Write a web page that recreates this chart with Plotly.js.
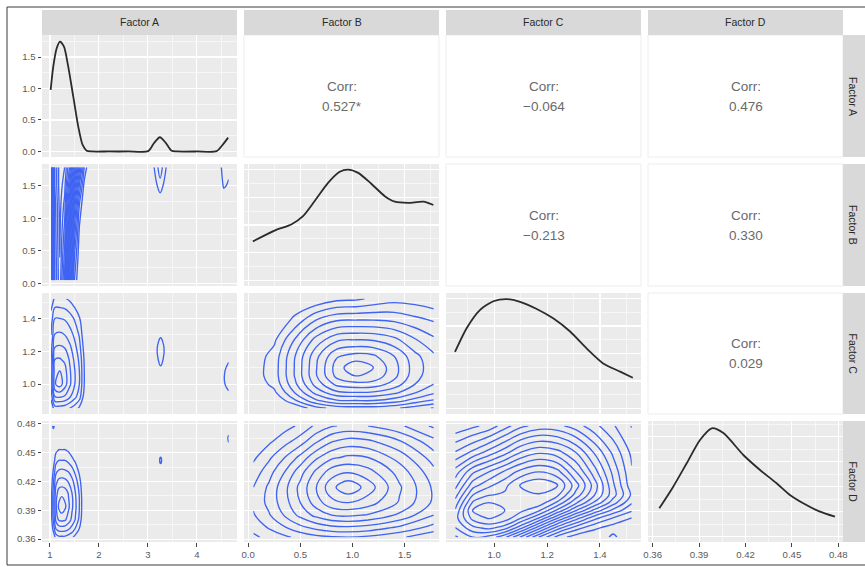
<!DOCTYPE html>
<html><head><meta charset="utf-8">
<script src="https://cdn.plot.ly/plotly-3.0.1.min.js"></script>
<style>html,body{margin:0;padding:0;background:#fff}#chart{width:865px;height:567px}</style>
</head><body><div id="chart"></div>
<script>
// ================= DATA =================
const factors = ['Factor A', 'Factor B', 'Factor C', 'Factor D'];

// diagonal densities
const densA_x = [1.014, 1.067, 1.137, 1.204, 1.286, 1.373, 1.476, 1.578, 1.667, 1.749, 1.85, 2.2, 2.6, 3.006, 3.122, 3.245, 3.361, 3.484, 3.6, 4.0, 4.402, 4.524, 4.639];
const densA_y = [0.977, 1.347, 1.64, 1.745, 1.665, 1.347, 0.87, 0.394, 0.103, 0.013, 0.0, 0.0, 0.0, 0.005, 0.13, 0.226, 0.14, 0.01, 0.0, 0.0, 0.005, 0.103, 0.22];
const densB_x = [0.045, 0.253, 0.413, 0.526, 0.638, 0.766, 0.878, 0.958, 1.055, 1.183, 1.31, 1.407, 1.535, 1.68, 1.776];
const densB_y = [0.282, 0.36, 0.404, 0.464, 0.573, 0.704, 0.784, 0.80, 0.776, 0.696, 0.608, 0.568, 0.56, 0.568, 0.544];
const densC_x = [0.852, 0.896, 0.946, 0.997, 1.047, 1.098, 1.161, 1.223, 1.287, 1.350, 1.412, 1.476, 1.524];
const densC_y = [1.03, 1.46, 1.79, 1.95, 1.99, 1.94, 1.81, 1.64, 1.40, 1.09, 0.82, 0.67, 0.56];
const densD_x = [0.3643, 0.3733, 0.382, 0.3906, 0.3982, 0.4057, 0.4186, 0.4294, 0.4401, 0.4487, 0.4573, 0.4681, 0.4778];
const densD_y = [2.82, 4.98, 7.32, 9.65, 10.82, 10.34, 8.15, 6.65, 5.32, 4.15, 3.32, 2.48, 1.98];

// correlations (upper triangle)
const corrRow = [0, 0, 0, 1, 1, 2];
const corrCol = [1, 2, 3, 2, 3, 3];
const corrText = ['0.527*', '\u22120.064', '0.476', '\u22120.213', '0.330', '0.029'];

// tick labels
const ticksA = [1, 2, 3, 4],               ticksA_text = ['1', '2', '3', '4'];
const ticksB = [0, 0.5, 1, 1.5],           ticksB_text = ['0.0', '0.5', '1.0', '1.5'];
const ticksC = [1.0, 1.2, 1.4],            ticksC_text = ['1.0', '1.2', '1.4'];
const ticksD = [0.36, 0.39, 0.42, 0.45, 0.48], ticksD_text = ['0.36', '0.39', '0.42', '0.45', '0.48'];
const ticksDensA = [0, 0.5, 1, 1.5],       ticksDensA_text = ['0.0', '0.5', '1.0', '1.5'];
const ticksDensB = [0, 0.2, 0.4, 0.6, 0.8];
const ticksDensC = [0, 0.5, 1, 1.5, 2];
const ticksDensD = [0, 2.5, 5, 7.5, 10];

// 2D density grids (estimated contour level field), lower triangle
// A (x) vs B (y)
const ab_x = [1.02, 1.1, 1.2, 1.3, 1.4, 1.5, 1.6, 1.7, 1.8, 2.2, 2.8, 3.05, 3.25, 3.45, 3.7, 4.2, 4.45, 4.55, 4.65];
const ab_y = [0.05, 0.4, 0.8, 1.2, 1.5, 1.78];
const ab_z = [
  [5.6, 9.0, 10.4, 8.3, 4.5, 1.5, 0.4, 0, 0, 0, 0, 0, 0, 0, 0, 0, 0, 0, 0],
  [5.7, 9.1, 10.5, 8.8, 5.2, 2.0, 0.6, 0.1, 0, 0, 0, 0, 0, 0, 0, 0, 0, 0, 0],
  [5.8, 9.2, 10.6, 9.3, 6.0, 2.8, 0.9, 0.2, 0, 0, 0, 0, 0, 0, 0, 0, 0, 0, 0],
  [6.0, 9.3, 10.7, 9.8, 7.0, 3.8, 1.5, 0.4, 0, 0, 0, 0, 0.5, 0, 0, 0, 0, 0.4, 0.3],
  [6.3, 9.5, 10.8, 10.2, 8.0, 5.0, 2.5, 0.8, 0.2, 0, 0, 0.3, 1.3, 0.3, 0, 0, 0.4, 1.1, 0.9],
  [6.5, 9.5, 10.8, 10.5, 9.0, 6.5, 3.8, 1.5, 0.5, 0, 0, 0.5, 1.8, 0.5, 0, 0, 0.6, 1.4, 1.2]
];
// A (x) vs C (y)
const ac_x = [1.02, 1.1, 1.2, 1.3, 1.4, 1.5, 1.6, 1.7, 1.85, 2.5, 3.05, 3.15, 3.26, 3.37, 3.5, 4.3, 4.5, 4.58, 4.65];
const ac_y = [0.853, 0.92, 1.0, 1.08, 1.15, 1.22, 1.3, 1.4, 1.52];
const ac_z = [
  [1.2, 2.5, 2.5, 2.4, 2.0, 1.5, 0.8, 0, 0, 0, 0, 0, 0, 0, 0, 0, 0, 0, 0],
  [2.2, 4.9, 5.0, 4.8, 4.1, 3.3, 2.4, 0.5, 0, 0, 0, 0, 0, 0, 0, 0, 0.2, 0.4, 0.7],
  [3.0, 6.9, 7.5, 6.5, 5.25, 4.1, 3.0, 1.0, 0, 0, 0, 0.2, 0.4, 0.2, 0, 0, 0.3, 1.05, 1.3],
  [3.0, 6.7, 7.0, 6.4, 5.2, 4.1, 3.0, 1.0, 0, 0, 0.2, 0.4, 0.8, 0.4, 0.2, 0, 0.3, 1.05, 1.3],
  [2.8, 6.0, 6.1, 5.8, 4.9, 3.8, 2.8, 0.9, 0, 0, 0.3, 0.7, 1.25, 0.7, 0.3, 0, 0.2, 0.6, 0.9],
  [2.5, 5.1, 5.2, 5.0, 4.3, 3.4, 2.4, 0.6, 0, 0, 0.3, 0.8, 1.35, 0.8, 0.3, 0, 0, 0.2, 0.3],
  [2.0, 4.1, 4.2, 4.0, 3.5, 2.8, 1.9, 0.2, 0, 0, 0.2, 0.4, 0.9, 0.4, 0.2, 0, 0, 0, 0],
  [1.4, 3.0, 3.0, 2.9, 2.5, 1.9, 1.1, 0, 0, 0, 0, 0.2, 0.3, 0.2, 0, 0, 0, 0, 0],
  [0.4, 1.2, 1.2, 1.1, 0.8, 0.3, 0, 0, 0, 0, 0, 0, 0, 0, 0, 0, 0, 0, 0]
];
// A (x) vs D (y)
const ad_x = [1.02, 1.07, 1.12, 1.18, 1.24, 1.31, 1.38, 1.45, 1.52, 1.6, 1.68, 2.5, 3.2, 3.26, 3.32, 4.0, 4.56, 4.6, 4.65];
const ad_y = [0.362, 0.37, 0.38, 0.394, 0.408, 0.42, 0.432, 0.442, 0.452, 0.465, 0.478];
const ad_z = [
  [0, 0.2, 1.4, 1.8, 1.8, 1.8, 1.5, 1.2, 0.6, 0, 0, 0, 0, 0, 0, 0, 0, 0, 0],
  [0, 1.3, 2.9, 3.3, 3.4, 3.3, 3.0, 2.5, 1.8, 0.9, 0, 0, 0, 0, 0, 0, 0, 0, 0],
  [0.3, 2.2, 4.2, 5.1, 5.2, 5.1, 4.5, 3.7, 2.9, 1.7, 0.1, 0, 0, 0, 0, 0, 0, 0, 0],
  [0.5, 2.5, 4.8, 6.2, 6.8, 6.2, 5.2, 4.2, 3.2, 2.0, 0.3, 0, 0, 0, 0, 0, 0, 0, 0],
  [0.4, 2.4, 4.5, 5.5, 5.7, 5.5, 4.9, 4.0, 3.0, 1.9, 0.2, 0, 0, 0, 0, 0, 0, 0, 0],
  [0.1, 1.9, 3.7, 4.3, 4.4, 4.3, 3.9, 3.3, 2.5, 1.4, 0, 0, 0, 0, 0, 0, 0, 0, 0],
  [0, 1.1, 2.6, 3.0, 3.1, 3.0, 2.8, 2.3, 1.6, 0.7, 0, 0, 0.3, 0.6, 0.3, 0, 0, 0, 0],
  [0, 0.4, 1.6, 2.0, 2.0, 2.0, 1.7, 1.3, 0.8, 0, 0, 0, 0.6, 1.2, 0.6, 0, 0, 0, 0],
  [0, 0, 0.8, 1.1, 1.1, 1.1, 0.9, 0.5, 0.1, 0, 0, 0, 0.3, 0.6, 0.3, 0, 0, 0.2, 0.7],
  [0, 0.5, 0, 0, 0, 0, 0, 0, 0, 0, 0, 0, 0, 0, 0, 0, 0, 0.7, 1.15],
  [0.7, 1.15, 0.7, 0, 0, 0, 0, 0, 0, 0, 0, 0, 0, 0, 0, 0, 0, 0.2, 0.6]
];
// B (x) vs C (y)
const bc_x = [0.05, 0.25, 0.45, 0.65, 0.85, 1.03, 1.2, 1.4, 1.6, 1.78];
const bc_y = [0.853, 0.9, 0.95, 1.0, 1.05, 1.1, 1.17, 1.27, 1.39, 1.52];
const bc_z = [
  [0, 0, 0.1, 1.6, 2.4, 2.5, 2.5, 2.2, 1.5, 0.9],
  [0, 0, 1.9, 3.8, 4.9, 5.0, 5.0, 4.5, 3.6, 2.9],
  [0, 0.8, 3.1, 5.4, 6.8, 7.0, 6.9, 6.3, 5.1, 4.2],
  [0.3, 1.3, 3.8, 6.4, 8.3, 8.7, 8.6, 7.6, 6.0, 5.0],
  [0.5, 1.5, 4.1, 6.9, 9.3, 10.0, 9.7, 8.3, 6.4, 5.3],
  [0.5, 1.5, 4.1, 6.9, 9.5, 10.8, 10.0, 8.4, 6.5, 5.4],
  [0.4, 1.4, 4.0, 6.7, 8.9, 9.4, 9.2, 8.0, 6.3, 5.2],
  [0, 0.8, 3.1, 5.4, 6.8, 7.0, 6.9, 6.3, 5.1, 4.2],
  [0, 0, 1.3, 3.0, 3.9, 4.0, 4.0, 3.8, 3.3, 2.9],
  [0, 0, 0, 0.1, 0.7, 0.8, 1.2, 1.6, 1.5, 1.2]
];
// B (x) vs D (y)
const bd_x = [0.05, 0.2, 0.35, 0.5, 0.65, 0.8, 0.96, 1.15, 1.45, 1.78];
const bd_y = [0.362, 0.372, 0.385, 0.398, 0.414, 0.43, 0.445, 0.462, 0.478];
const bd_z = [
  [0.8, 1.3, 1.8, 2.3, 2.7, 2.9, 3.0, 2.8, 2.2, 1.2],
  [1.3, 2.1, 2.9, 3.7, 4.3, 4.7, 4.8, 4.6, 3.8, 2.6],
  [1.9, 2.9, 4.1, 5.3, 6.3, 7.0, 7.2, 6.9, 5.8, 4.0],
  [2.2, 3.3, 4.6, 6.0, 7.5, 8.7, 9.0, 8.5, 6.9, 4.8],
  [2.0, 3.2, 4.7, 6.3, 7.95, 9.7, 10.8, 9.55, 7.15, 4.8],
  [1.4, 2.6, 4.0, 5.6, 7.2, 8.5, 8.9, 8.4, 6.6, 4.3],
  [0.8, 1.8, 3.0, 4.3, 5.8, 6.8, 7.2, 7.0, 5.6, 3.5],
  [0.1, 0.8, 1.6, 2.5, 3.8, 4.9, 5.4, 5.2, 4.1, 2.3],
  [0, 0.1, 0.6, 1.2, 2.2, 2.9, 3.2, 3.0, 2.2, 0.8]
];
// C (x) vs D (y)
const cd_x = [0.853, 0.92, 0.98, 1.04, 1.1, 1.17, 1.24, 1.31, 1.38, 1.45, 1.52];
const cd_y = [0.362, 0.372, 0.382, 0.39, 0.398, 0.406, 0.416, 0.43, 0.45, 0.478];
const cd_z = [
  [8.5, 9.5, 9.2, 8.0, 6.0, 3.5, 1.5, 0.5, 0.3, 1.2, 0.2],
  [9.5, 11.0, 11.5, 10.8, 9.0, 6.5, 4.0, 2.3, 1.2, 0.6, 0.3],
  [10.0, 12.4, 13.0, 12.6, 11.3, 9.5, 7.0, 4.8, 3.0, 1.8, 1.0],
  [9.6, 13.0, 13.5, 12.9, 12.3, 11.3, 9.3, 7.0, 5.0, 3.3, 2.0],
  [9.0, 12.2, 12.9, 12.6, 12.5, 12.6, 11.0, 8.8, 6.8, 4.8, 2.8],
  [8.3, 11.2, 12.0, 12.2, 12.5, 12.8, 12.2, 10.0, 7.8, 5.6, 3.4],
  [7.5, 10.0, 11.0, 11.8, 13.0, 13.6, 12.9, 10.7, 8.2, 5.4, 3.0],
  [6.5, 8.5, 9.5, 10.5, 11.5, 12.1, 11.5, 9.5, 7.3, 5.0, 2.8],
  [4.5, 5.5, 6.5, 7.5, 8.7, 9.4, 9.0, 7.8, 6.0, 4.2, 2.5],
  [2.0, 2.5, 3.0, 4.0, 5.0, 5.6, 5.5, 4.8, 3.8, 2.8, 1.8]
];

// ================= LAYOUT =================
const W = 865, H = 567;
const FONT = 'Liberation Sans, Arial, Helvetica, sans-serif';
const colPx = [[42, 237], [244, 439], [446, 641], [648, 843]];
const rowPx = [[35, 157], [164, 286], [293, 414], [421, 542]];
const stripTop = [10, 35], stripRight = [843, 866];
const fx = p => p / W, fy = p => 1 - p / H;

const varRange = [[0.837, 4.82], [-0.04, 1.83], [0.818, 1.555], [0.357, 0.483]];
const varTicks = [ticksA, ticksB, ticksC, ticksD];
const varText = [ticksA_text, ticksB_text, ticksC_text, ticksD_text];
const densRange = [[-0.088, 1.85], [-0.04, 0.84], [-0.1, 2.1], [-0.55, 11.55]];
const densTicks = [ticksDensA, ticksDensB, ticksDensC, ticksDensD];
const densText = [ticksDensA_text, ticksDensB.map(String), ticksDensC.map(String), ticksDensD.map(String)];
const densX = [densA_x, densB_x, densC_x, densD_x];
const densY = [densA_y, densB_y, densC_y, densD_y];

function mids(t) {
  const step = t[1] - t[0];
  const m = [t[0] - step / 2];
  for (let i = 0; i < t.length - 1; i++) m.push((t[i] + t[i + 1]) / 2);
  m.push(t[t.length - 1] + step / 2);
  return m;
}
function axisDef(domain, range, tickvals, ticktext, show, anchor) {
  return {
    domain, range, anchor, tickmode: 'array', tickvals, ticktext,
    showticklabels: show, ticks: show ? 'outside' : '', ticklen: 3.5, tickwidth: 1, tickcolor: '#444444',
    tickfont: {family: FONT, size: 9.6, color: '#5A5A5A'},
    showgrid: true, gridcolor: '#FFFFFF', gridwidth: 1.1, zeroline: false, showline: false, fixedrange: true,
    minor: {tickmode: 'array', tickvals: mids(tickvals), showgrid: true, gridcolor: '#FFFFFF', gridwidth: 0.55, ticks: ''}
  };
}

const layout = {
  width: W, height: H, margin: {l: 0, r: 0, t: 0, b: 0},
  paper_bgcolor: '#FFFFFF', plot_bgcolor: '#EBEBEB', showlegend: false,
  shapes: [], annotations: []
};
const data = [];
let n = 0;
function makePanel(r, c, yRange, yTicks, yText) {
  n++;
  const sfx = n === 1 ? '' : String(n);
  layout['xaxis' + sfx] = axisDef([fx(colPx[c][0]), fx(colPx[c][1])], varRange[c], varTicks[c], varText[c], r === 3, 'y' + sfx);
  layout['yaxis' + sfx] = axisDef([fy(rowPx[r][1]), fy(rowPx[r][0])], yRange, yTicks, yText, c === 0, 'x' + sfx);
  return {x: 'x' + sfx, y: 'y' + sfx};
}
function densityTrace(i, ref) {
  return {type: 'scatter', mode: 'lines', x: densX[i], y: densY[i], xaxis: ref.x, yaxis: ref.y,
    line: {color: '#2B2B2B', width: 1.8, shape: 'spline', smoothing: 0.7}, hoverinfo: 'skip'};
}
function contourTrace(xs, ys, z, step, top, ref) {
  return {type: 'contour', x: xs, y: ys, z: z, xaxis: ref.x, yaxis: ref.y, autocontour: false,
    contours: {coloring: 'none', start: 1, end: top, size: step, showlabels: false},
    line: {color: '#3F63F2', width: 1.35, smoothing: 1.1}, showscale: false, hoverinfo: 'skip'};
}

const lower = {
  '1,0': [ab_x, ab_y, ab_z, 0.5, 10.5],
  '2,0': [ac_x, ac_y, ac_z, 1, 7],
  '3,0': [ad_x, ad_y, ad_z, 1, 6],
  '2,1': [bc_x, bc_y, bc_z, 1, 10],
  '3,1': [bd_x, bd_y, bd_z, 1, 10],
  '3,2': [cd_x, cd_y, cd_z, 0.85, 13.6]
};

for (let r = 0; r < 4; r++) {
  for (let c = 0; c <= r; c++) {
    if (r === c) {
      const ref = makePanel(r, c, densRange[r], densTicks[r], densText[r]);
      data.push(densityTrace(r, ref));
    } else {
      const ref = makePanel(r, c, varRange[r], varTicks[r], varText[r]);
      const g = lower[r + ',' + c];
      data.push(contourTrace(g[0], g[1], g[2], g[3], g[4], ref));
    }
  }
}

// upper panels: white boxes with correlation text
for (let i = 0; i < corrText.length; i++) {
  const r = corrRow[i], c = corrCol[i];
  layout.shapes.push({type: 'rect', xref: 'paper', yref: 'paper',
    x0: fx(colPx[c][0]), x1: fx(colPx[c][1]), y0: fy(rowPx[r][1]), y1: fy(rowPx[r][0]),
    fillcolor: '#FFFFFF', line: {color: '#EDEDED', width: 1}, layer: 'below'});
  const cx = (colPx[c][0] + colPx[c][1]) / 2, cy = (rowPx[r][0] + rowPx[r][1]) / 2;
  layout.annotations.push({xref: 'paper', yref: 'paper', x: fx(cx), y: fy(cy - 10), text: 'Corr:',
    showarrow: false, xanchor: 'center', yanchor: 'middle', font: {family: FONT, size: 13.5, color: '#6A6A6A'}});
  layout.annotations.push({xref: 'paper', yref: 'paper', x: fx(cx), y: fy(cy + 10), text: corrText[i],
    showarrow: false, xanchor: 'center', yanchor: 'middle', font: {family: FONT, size: 13.5, color: '#6A6A6A'}});
}

// strips
for (let c = 0; c < 4; c++) {
  layout.shapes.push({type: 'rect', xref: 'paper', yref: 'paper',
    x0: fx(colPx[c][0]), x1: fx(colPx[c][1]), y0: fy(stripTop[1]), y1: fy(stripTop[0]),
    fillcolor: '#D9D9D9', line: {width: 0}, layer: 'below'});
  layout.annotations.push({xref: 'paper', yref: 'paper', x: fx((colPx[c][0] + colPx[c][1]) / 2),
    y: fy((stripTop[0] + stripTop[1]) / 2), text: factors[c], showarrow: false,
    xanchor: 'center', yanchor: 'middle', font: {family: FONT, size: 10.5, color: '#2A2A2A'}});
}
for (let r = 0; r < 4; r++) {
  layout.shapes.push({type: 'rect', xref: 'paper', yref: 'paper',
    x0: fx(stripRight[0]), x1: fx(stripRight[1]), y0: fy(rowPx[r][1]), y1: fy(rowPx[r][0]),
    fillcolor: '#D9D9D9', line: {width: 0}, layer: 'below'});
  layout.annotations.push({xref: 'paper', yref: 'paper', x: fx(853),
    y: fy((rowPx[r][0] + rowPx[r][1]) / 2), text: factors[r], showarrow: false, textangle: 90,
    xanchor: 'center', yanchor: 'middle', font: {family: FONT, size: 10.5, color: '#2A2A2A'}});
}

// outer frame
layout.shapes.push({type: 'rect', xref: 'paper', yref: 'paper',
  x0: fx(7), x1: fx(872), y0: fy(565), y1: fy(7), line: {color: '#3A3A3A', width: 1}, fillcolor: 'rgba(0,0,0,0)', layer: 'above'});

Plotly.newPlot('chart', data, layout, {displayModeBar: false, staticPlot: true});
</script>
</body></html>
